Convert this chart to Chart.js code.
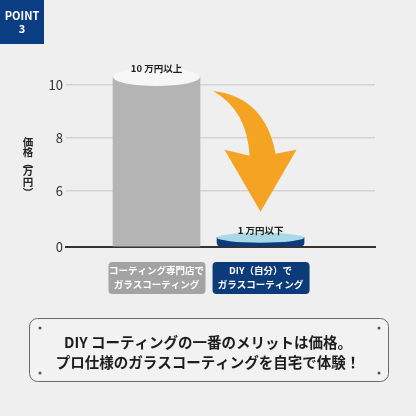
<!DOCTYPE html>
<html>
<head>
<meta charset="utf-8">
<script src="https://cdn.jsdelivr.net/npm/chart.js@4/dist/chart.umd.min.js"></script>
<style>
    html, body { margin: 0; padding: 0; background: #efefef; }
    #wrap { width: 416px; height: 416px; }
</style>
</head>
<body>
<div id="wrap"><canvas id="priceChart" width="416" height="416"></canvas></div>
<script>
// Data (価格, 万円)
const categories = [
    ['コーティング専門店で', 'ガラスコーティング'],
    ['DIY（自分）で', 'ガラスコーティング']
];
const prices = [10.3, 1];
const priceLabels = ['10 万円以上', '1 万円以下'];
const tickValues = [0, 6, 8, 10];
const axisTitle = '価格（万円）';
const message = ['DIY コーティングの一番のメリットは価格。', 'プロ仕様のガラスコーティングを自宅で体験！'];

const FONT = '"Noto Sans CJK JP", "Noto Sans", sans-serif';
const barColors = ['#b4b4b4', '#0c3b7a'];
const topColors = ['#f6f6f6', '#a9d8e8'];
const boxColors = ['#a3a3a3', '#0c3b7a'];
const topRadiusY = [9, 5];

// y axis is broken between 0 and 6: that part is squeezed
const LOW_SPAN = 2.113;
function toAxis(v) {
    return v <= 6 ? v / 6 * LOW_SPAN : LOW_SPAN + (v - 6);
}

function roundRect(ctx, x, y, w, h, r) {
    ctx.beginPath();
    ctx.moveTo(x + r, y);
    ctx.lineTo(x + w - r, y);
    ctx.arcTo(x + w, y, x + w, y + r, r);
    ctx.lineTo(x + w, y + h - r);
    ctx.arcTo(x + w, y + h, x + w - r, y + h, r);
    ctx.lineTo(x + r, y + h);
    ctx.arcTo(x, y + h, x, y + h - r, r);
    ctx.lineTo(x, y + r);
    ctx.arcTo(x, y, x + r, y, r);
    ctx.closePath();
}

// background, badge, label boxes, axis title, bottom message
const decoPlugin = {
    id: 'deco',
    beforeDraw(chart) {
        const ctx = chart.ctx;
        const xs = chart.scales.x;
        ctx.save();
        ctx.fillStyle = '#efefef';
        ctx.fillRect(0, 0, chart.width, chart.height);

        // POINT badge
        ctx.fillStyle = '#0b3d82';
        ctx.fillRect(0, 0, 44, 44);
        ctx.fillStyle = '#ffffff';
        ctx.font = 'bold 11px ' + FONT;
        ctx.textAlign = 'center';
        ctx.textBaseline = 'middle';
        ctx.fillText('POINT', 22, 16);
        ctx.fillText('3', 22, 29);

        // boxes behind the category labels
        categories.forEach((c, i) => {
            const px = xs.getPixelForValue(i);
            ctx.fillStyle = boxColors[i];
            roundRect(ctx, px - 48, xs.top + 15, 97, 32, 4);
            ctx.fill();
        });

        // vertical axis title, upright characters
        ctx.fillStyle = '#222222';
        ctx.font = 'bold 10.5px ' + FONT;
        let y = 142;
        for (const ch of axisTitle) {
            ctx.save();
            ctx.translate(28, y);
            if (ch === '（' || ch === '）') {
                ctx.rotate(Math.PI / 2);
            }
            ctx.fillText(ch, 0, 0);
            ctx.restore();
            y += (ch === '（' || ch === '）') ? 8.5 : 10.5;
        }

        // message box
        ctx.strokeStyle = '#6a6a6a';
        ctx.lineWidth = 1;
        ctx.fillStyle = '#f2f2f2';
        roundRect(ctx, 29.5, 318.5, 359, 63, 8);
        ctx.fill();
        ctx.stroke();
        ctx.fillStyle = '#555555';
        [[40, 328], [379, 328], [40, 373], [379, 373]].forEach(p => {
            ctx.beginPath();
            ctx.arc(p[0], p[1], 1.5, 0, Math.PI * 2);
            ctx.fill();
        });
        ctx.fillStyle = '#1c1c1c';
        ctx.font = 'bold 14.5px ' + FONT;
        ctx.fillText(message[0], 208, 342);
        ctx.fillText(message[1], 208, 362);
        ctx.restore();
    },
    afterDatasetsDraw(chart) {
        const ctx = chart.ctx;
        const bars = chart.getDatasetMeta(0).data;
        ctx.save();
        // cylinder tops
        bars.forEach((bar, i) => {
            const rx = bar.width / 2;
            const ry = topRadiusY[i];
            ctx.fillStyle = topColors[i];
            ctx.beginPath();
            ctx.ellipse(bar.x, bar.y, rx, ry, 0, 0, Math.PI * 2);
            ctx.fill();
            ctx.fillStyle = '#1e1e1e';
            ctx.font = 'bold 9.5px ' + FONT;
            ctx.textAlign = 'center';
            ctx.textBaseline = 'middle';
            ctx.fillText(priceLabels[i], bar.x, bar.y - ry - (i === 0 ? 0 : 2));
        });

        // orange arrow from the tall bar down to the small one
        const a = bars[0], b = bars[1];
        const sx = a.x + a.width / 2 + 13, sy = 91;
        const tx = b.x, ty = b.y - 26;
        ctx.fillStyle = '#f4a322';
        ctx.beginPath();
        ctx.moveTo(sx, sy);
        ctx.quadraticCurveTo(sx + 52, sy + 6, tx + 15, ty - 58);
        ctx.lineTo(tx + 36, ty - 62);
        ctx.lineTo(tx, ty);
        ctx.lineTo(tx - 36, ty - 62);
        ctx.lineTo(tx - 11, ty - 56);
        ctx.quadraticCurveTo(sx + 34, sy + 19, sx, sy);
        ctx.closePath();
        ctx.fill();
        ctx.restore();
    }
};

new Chart(document.getElementById('priceChart'), {
    type: 'bar',
    data: {
        datasets: [{
            data: prices.map((p, i) => ({ x: i, y: toAxis(p) })),
            backgroundColor: barColors,
            borderWidth: 0,
            borderSkipped: false,
            borderRadius: [0, { topLeft: 0, topRight: 0, bottomLeft: 4, bottomRight: 4 }],
            barThickness: 87
        }]
    },
    options: {
        responsive: false,
        animation: false,
        layout: { padding: { top: 61.5, right: 41, left: 0, bottom: 0 } },
        plugins: {
            legend: { display: false },
            tooltip: { enabled: false }
        },
        scales: {
            x: {
                type: 'linear',
                min: -0.87,
                max: 2.1,
                offset: false,
                z: 1,
                afterFit: scale => { scale.height = 169; },
                afterBuildTicks: scale => {
                    scale.ticks = categories.map((c, i) => ({ value: i }));
                },
                grid: { display: false, drawTicks: false },
                border: { display: true, color: '#3a302c', width: 2 },
                ticks: {
                    autoSkip: false,
                    padding: 17,
                    color: '#ffffff',
                    font: { family: FONT, size: 9.5, weight: 'bold', lineHeight: 1.45 },
                    callback: (value) => categories[value]
                }
            },
            y: {
                min: 0,
                max: 7,
                afterFit: scale => { scale.width = 66; },
                afterBuildTicks: scale => {
                    scale.ticks = tickValues.map(v => ({ value: toAxis(v) }));
                },
                grid: {
                    drawTicks: false,
                    lineWidth: 1.5,
                    color: ctx => (ctx.tick && ctx.tick.value === 0) ? 'rgba(0,0,0,0)' : '#d3d3d3'
                },
                border: { display: false },
                ticks: {
                    padding: 3,
                    color: '#333333',
                    font: { family: FONT, size: 13 },
                    callback: (value, index) => tickValues[index]
                }
            }
        }
    },
    plugins: [decoPlugin]
});
</script>
</body>
</html>
